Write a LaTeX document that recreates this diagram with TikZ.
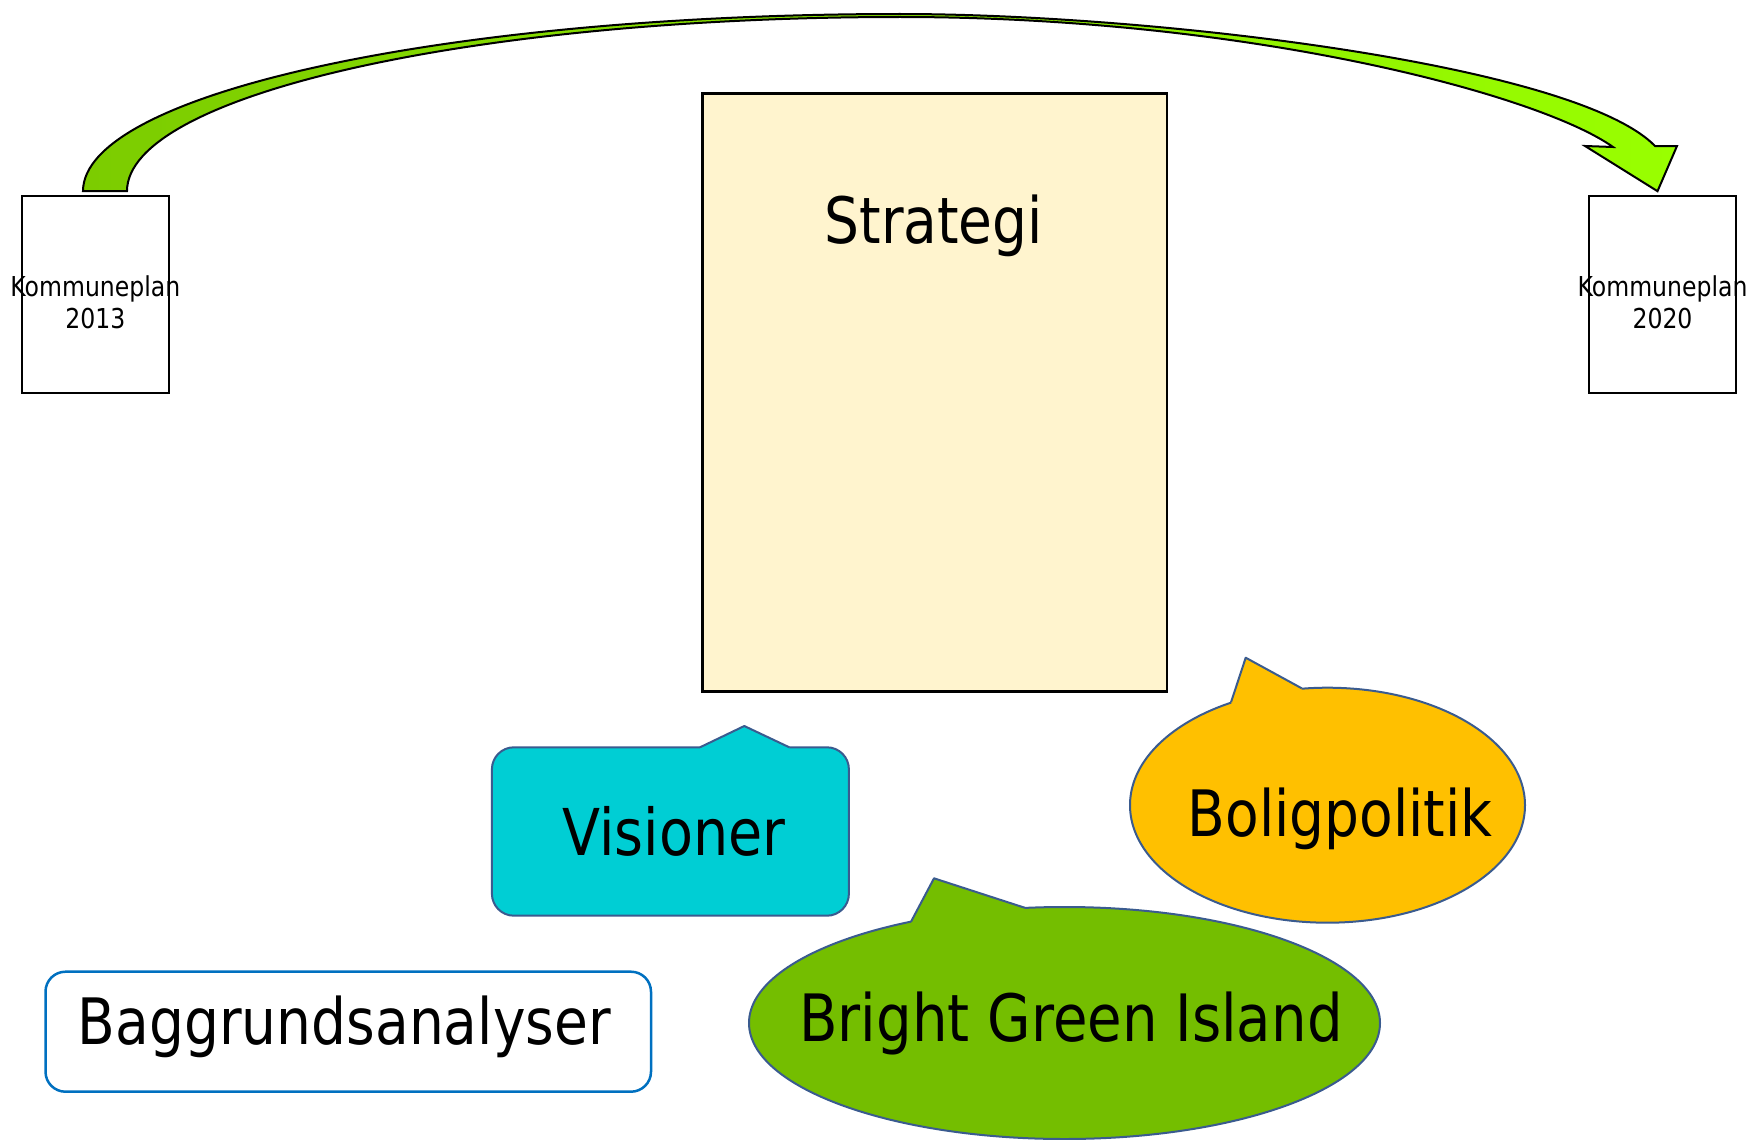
\documentclass[tikz,border=0pt]{standalone}
\usepackage{fontspec}
\setmainfont{DejaVu Sans}[FakeStretch=0.86]
\usepackage{tikz}
\usetikzlibrary{calc}
\usetikzlibrary{shapes.geometric}

\definecolor{cream}{HTML}{FFF4CE}
\definecolor{turq}{HTML}{00CED4}
\definecolor{amber}{HTML}{FFC000}
\definecolor{leaf}{HTML}{74BE00}
\definecolor{darkleaf}{HTML}{7CCC00}
\definecolor{lime}{HTML}{99FF00}
\definecolor{edge}{HTML}{3A5B8F}
\definecolor{azure}{HTML}{0070C0}

\begin{document}
\begin{tikzpicture}[x=1pt, y=-1pt,
  planbox/.style={rectangle, draw=black, line width=2.5pt, fill=white, inner sep=0pt, outer sep=0pt, minimum width=147pt, minimum height=197pt},
  plantext/.style={inner sep=0pt, align=center, font=\fontsize{27.4}{31.6}\selectfont},
  bigtext/.style={inner sep=0pt, anchor=base, font=\fontsize{64}{70}\selectfont},
  bubble/.style={ellipse, draw=edge, line width=2pt, inner sep=0pt, outer sep=0pt},
  tailedge/.style={draw=edge, line width=2pt, line join=round}]

  \useasboundingbox (0,0) rectangle (1749,1140);

  \foreach \name/\x/\yr in {k13/95.3/2013, k20/1662.5/2020} {
    \node[planbox] (\name) at (\x, 294.7) {};
    \node[plantext] (\name-label) at (\x, 302.4) {Kommuneplan\\\yr};
  }

  \node[rectangle, draw=black, line width=2.5pt, fill=cream, inner sep=0pt, minimum width=464.4pt, minimum height=598.3pt] (strategi) at (934.8, 392.5) {};
  \node[bigtext] (strategi-label) at (933.8, 243.3) {Strategi};

  \node[rectangle, rounded corners=22pt, draw=edge, line width=2pt, fill=turq, inner sep=0pt, minimum width=357pt, minimum height=168.4pt] (visioner) at (670.4, 831.5) {};
  \fill[turq] (700,747.3) -- (744.3,726) -- (789.3,747.3) -- (789.3,753) -- (700,753) -- cycle;
  \draw[tailedge] (700,747.3) -- (744.3,726) -- (789.3,747.3);
  \node[bigtext, font=\fontsize{64.6}{70}\selectfont] (visioner-label) at (674, 855) {Visioner};

  \node[bubble, fill=amber, minimum width=395pt, minimum height=235pt] (bolig) at (1327.5, 805.2) {};
  \fill[amber] (1231,702.3) -- (1245.7,657.7) -- (1301.7,688.3) -- (1300,700) -- (1235,712) -- cycle;
  \draw[tailedge] (1231,702.3) -- (1245.7,657.7) -- (1301.7,688.3);
  \node[bigtext] (bolig-label) at (1340, 836) {Boligpolitik};

  \node[bubble, fill=leaf, minimum width=631pt, minimum height=232pt] (bgi) at (1064.5, 1023) {};
  \fill[leaf] (911,921.7) -- (934,878.3) -- (1024.6,907.7) -- (1022,918) -- (916,932) -- cycle;
  \draw[tailedge] (911,921.7) -- (934,878.3) -- (1024.6,907.7);
  \node[bigtext, font=\fontsize{65.3}{70}\selectfont] (bgi-label) at (1071, 1041.7) {Bright Green Island};

  \node[rectangle, rounded corners=20pt, draw=azure, line width=2.5pt, inner sep=0pt, minimum width=605.5pt, minimum height=120pt] (baggrund) at (348.25, 1031.7) {};
  \node[bigtext] (baggrund-label) at (344.3, 1044.3) {Baggrundsanalyser};

  \coordinate (tail-out) at ($(k13.north)+(-12.3,-5)$);
  \coordinate (tail-in) at ($(k13.north)+(31.7,-5)$);
  \coordinate (tip) at ($(k20.north)+(-5,-5)$);
  \draw[line width=2pt, left color=darkleaf, right color=lime]
    (tail-out) .. controls (83,93) and (449,14) .. (900,14)
    .. controls (1150,14) and (1575,64) .. (1655,146)
    -- (1677,146) -- (tip) -- (1585,146) -- (1613,147)
    .. controls (1540,95) and (1250,17) .. (900,17)
    .. controls (473,17) and (127,95) .. (tail-in) -- cycle;

\end{tikzpicture}
\end{document}
